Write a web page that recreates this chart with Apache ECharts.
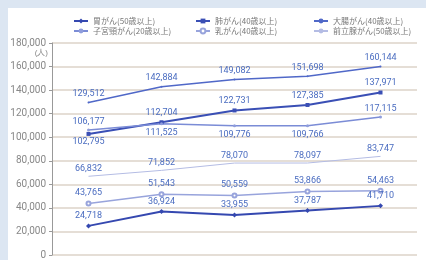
<!DOCTYPE html>
<html>
<head>
<meta charset="utf-8">
<script src="https://cdn.jsdelivr.net/npm/echarts@6/dist/echarts.min.js"></script>
<style>
  html, body { margin: 0; padding: 0; background: #dce6f2; }
  .panel { position: absolute; left: 8px; top: 8px; width: 418px; height: 252px; background: #fff; }
  #chart { position: absolute; left: 0; top: 0; width: 426px; height: 260px; }
</style>
</head>
<body>
<div class="panel"></div>
<div id="chart"></div>
<script>
const categories = ['1', '2', '3', '4', '5']
const yTicks = [0, 20000, 40000, 60000, 80000, 100000, 120000, 140000, 160000, 180000]

const stomach = [24718, 36924, 33955, 37787, 41710]      // 胃がん
const lung = [102795, 112704, 122731, 127385, 137971]    // 肺がん
const colon = [129512, 142884, 149082, 151698, 160144]   // 大腸がん
const cervical = [106177, 111525, 109776, 109766, 117115] // 子宮頸がん
const breast = [43765, 51543, 50559, 53866, 54463]       // 乳がん
const prostate = [66832, 71852, 78070, 78097, 83747]     // 前立腺がん

const names = ['胃がん(50歳以上)', '肺がん(40歳以上)', '大腸がん(40歳以上)',
  '子宮頸がん(20歳以上)', '乳がん(40歳以上)', '前立腺がん(50歳以上)']

const chart = echarts.init(document.getElementById('chart'))

const labelStyle = {
  show: true,
  color: '#4a6cc0',
  fontSize: 9,
  fontFamily: 'Roboto',
  distance: 3,
  formatter: p => p.value.toLocaleString('en-US')
}

const legendText = { color: '#777', fontSize: 8, fontFamily: 'Noto Sans CJK JP' }
const mkLegend = (left, data) => ({
  left: left,
  top: 12,
  orient: 'vertical',
  itemWidth: 14,
  itemHeight: 6,
  itemGap: 2,
  textStyle: legendText,
  data: data
})

const option = {
  animation: false,
  legend: [
    mkLegend(68, [names[0], names[3]]),
    mkLegend(190, [names[1], names[4]]),
    mkLegend(308, [names[2], names[5]])
  ],
  grid: { left: 52, right: 9, top: 43, bottom: 1 },
  xAxis: {
    type: 'category',
    data: categories,
    boundaryGap: true,
    axisLine: { show: false },
    axisTick: { show: false },
    axisLabel: { show: false }
  },
  yAxis: {
    type: 'value',
    min: 0,
    max: 180000,
    interval: 20000,
    name: '(人)',
    nameLocation: 'end',
    nameGap: -14,
    nameTextStyle: { color: '#888', fontSize: 8, align: 'right', padding: [0, 4, 0, 0] },
    axisLine: { show: true, lineStyle: { color: '#999' } },
    axisTick: { show: true, length: 3, lineStyle: { color: '#999' } },
    axisLabel: {
      color: '#888',
      fontSize: 10,
      fontFamily: 'Roboto',
      margin: 6,
      formatter: v => yTicks.includes(v) ? v.toLocaleString('en-US') : ''
    },
    splitLine: { lineStyle: { color: '#ddd3c8', width: 1.5 } }
  },
  series: [
    {
      name: names[0], type: 'line', data: stomach,
      symbol: 'diamond', symbolSize: 5,
      lineStyle: { color: '#3548b0', width: 2 },
      itemStyle: { color: '#3548b0' },
      label: { ...labelStyle, position: 'top' }
    },
    {
      name: names[1], type: 'line', data: lung,
      symbol: 'rect', symbolSize: 4,
      lineStyle: { color: '#3a4fb5', width: 2 },
      itemStyle: { color: '#3a4fb5' },
      label: { ...labelStyle, position: 'top' },
      labelLayout: p => p.dataIndex === 0 ? { dy: 17 } : {}
    },
    {
      name: names[2], type: 'line', data: colon,
      symbol: 'circle', symbolSize: 2,
      lineStyle: { color: '#5068c8', width: 1.5 },
      itemStyle: { color: '#5068c8' },
      label: { ...labelStyle, position: 'top' }
    },
    {
      name: names[3], type: 'line', data: cervical,
      symbol: 'circle', symbolSize: 3,
      lineStyle: { color: '#7b8cd6', width: 1.5 },
      itemStyle: { color: '#8f9ddc' },
      label: { ...labelStyle, position: 'bottom' },
      labelLayout: p => (p.dataIndex === 0 || p.dataIndex === 4) ? { dy: -17 } : {}
    },
    {
      name: names[4], type: 'line', data: breast,
      symbol: 'emptyCircle', symbolSize: 4,
      lineStyle: { color: '#98a4dc', width: 1.5 },
      itemStyle: { color: '#98a4dc', borderWidth: 1 },
      label: { ...labelStyle, position: 'top' }
    },
    {
      name: names[5], type: 'line', data: prostate,
      symbol: 'circle', symbolSize: 0,
      lineStyle: { color: '#b4bce4', width: 1 },
      itemStyle: { color: '#b4bce4' },
      label: { ...labelStyle, position: 'top' }
    }
  ]
}

chart.setOption(option)
</script>
</body>
</html>
